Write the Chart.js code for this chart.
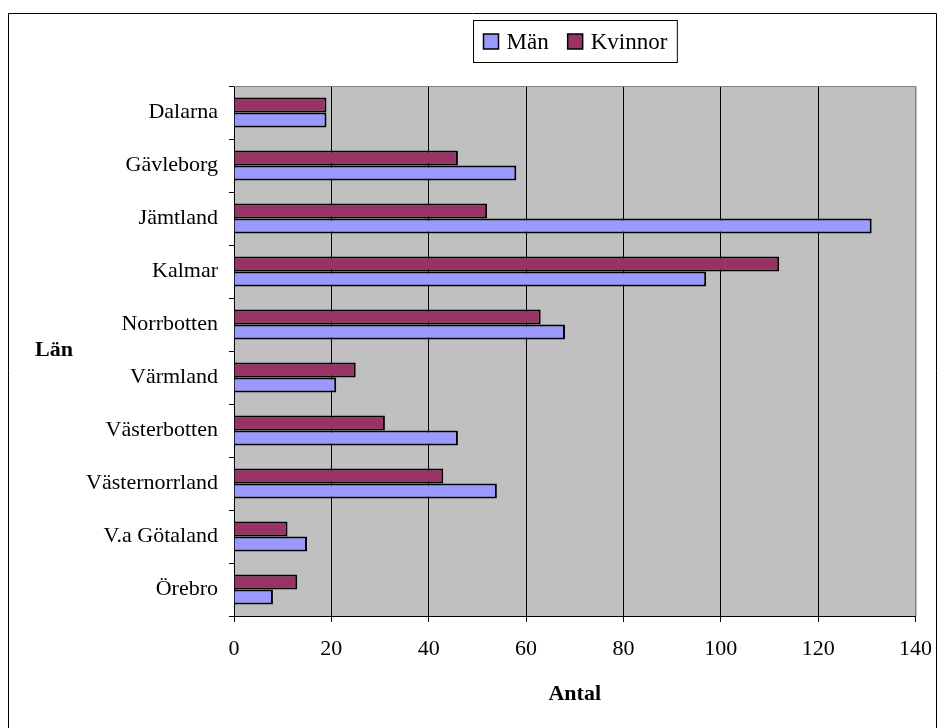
<!DOCTYPE html>
<html lang="sv">
<head>
    <meta charset="UTF-8">
    <meta name="viewport" content="width=device-width, initial-scale=1.0">
    <title>Antal per län</title>
    <script src="https://cdn.jsdelivr.net/npm/chart.js"></script>
    <style>
        html, body {
            margin: 0;
            padding: 0;
            background: #fff;
        }
        canvas {
            display: block;
        }
    </style>
</head>
<body>
    <canvas id="myChart" width="946" height="728"></canvas>

    <script>
        // data
        const lan = ['Dalarna', 'Gävleborg', 'Jämtland', 'Kalmar', 'Norrbotten', 'Värmland',
                     'Västerbotten', 'Västernorrland', 'V.a Götaland', 'Örebro'];
        const man = [19, 58, 131, 97, 68, 21, 46, 54, 15, 8];
        const kvinnor = [19, 46, 52, 112, 63, 25, 31, 43, 11, 13];
        const xMax = 140;
        const xStep = 20;

        const serif = '"Liberation Serif", "Times New Roman", serif';
        Chart.defaults.font.family = serif;
        Chart.defaults.font.size = 22;
        Chart.defaults.color = '#000';

        // gray plot background, frame round the picture, "Län" and the boxed legend
        const decorations = {
            id: 'decorations',
            beforeDraw(chart) {
                const {ctx, chartArea: a} = chart;
                ctx.save();
                ctx.fillStyle = '#fff';
                ctx.fillRect(0, 0, chart.width, chart.height);
                ctx.fillStyle = '#c0c0c0';
                ctx.fillRect(a.left, a.top, a.right - a.left, a.bottom - a.top);
                ctx.restore();
            },
            afterDraw(chart) {
                const {ctx, chartArea: a} = chart;
                ctx.save();
                // plot area edge top/right
                ctx.strokeStyle = '#808080';
                ctx.lineWidth = 1;
                ctx.beginPath();
                ctx.moveTo(a.left, a.top + 0.5);
                ctx.lineTo(a.right + 0.5, a.top + 0.5);
                ctx.lineTo(a.right + 0.5, a.bottom);
                ctx.stroke();

                // outer frame, bottom edge is cut off in the picture
                ctx.strokeStyle = '#000';
                ctx.beginPath();
                ctx.moveTo(8.5, chart.height);
                ctx.lineTo(8.5, 13.5);
                ctx.lineTo(936.5, 13.5);
                ctx.lineTo(936.5, chart.height);
                ctx.stroke();

                // y title, horizontal
                ctx.font = 'bold 22px ' + serif;
                ctx.fillStyle = '#000';
                ctx.textAlign = 'left';
                ctx.textBaseline = 'middle';
                ctx.fillText('Län', 35, 350);

                // legend: Män first, then Kvinnor
                ctx.font = '23px ' + serif;
                const items = chart.data.datasets.slice().reverse();
                const box = 15, gapText = 8, gapItem = 19, pad = 10;
                let w = pad * 2;
                items.forEach((d, i) => {
                    w += box + gapText + ctx.measureText(d.label).width;
                    if (i < items.length - 1) w += gapItem;
                });
                const cx = (a.left + a.right) / 2;
                const lx = Math.round(cx - w / 2) + 0.5;
                const ly = 20.5, lh = 42;
                ctx.fillStyle = '#fff';
                ctx.fillRect(lx, ly, w, lh);
                ctx.strokeStyle = '#000';
                ctx.strokeRect(lx, ly, w, lh);
                let x = lx + pad;
                const my = ly + lh / 2;
                items.forEach(d => {
                    ctx.fillStyle = d.backgroundColor;
                    ctx.fillRect(x, my - box / 2, box, box);
                    ctx.lineWidth = 1.5;
                    ctx.strokeStyle = '#000';
                    ctx.strokeRect(x, my - box / 2, box, box);
                    x += box + gapText;
                    ctx.fillStyle = '#000';
                    ctx.fillText(d.label, x, my + 1);
                    x += ctx.measureText(d.label).width + gapItem;
                });
                ctx.restore();
            }
        };

        const ctx = document.getElementById('myChart').getContext('2d');
        new Chart(ctx, {
            type: 'bar',
            data: {
                labels: lan,
                datasets: [{
                    label: 'Kvinnor',
                    data: kvinnor,
                    backgroundColor: '#993366',
                    borderColor: '#000',
                    borderWidth: 2,
                    categoryPercentage: 0.57,
                    barPercentage: 1.0
                }, {
                    label: 'Män',
                    data: man,
                    backgroundColor: '#9999ff',
                    borderColor: '#000',
                    borderWidth: 2,
                    categoryPercentage: 0.57,
                    barPercentage: 1.0
                }]
            },
            options: {
                indexAxis: 'y',
                responsive: false,
                animation: false,
                layout: {
                    padding: {top: 86, right: 28, left: 0, bottom: 0}
                },
                plugins: {
                    legend: {display: false},
                    tooltip: {enabled: false}
                },
                scales: {
                    x: {
                        min: 0,
                        max: xMax,
                        afterFit: (s) => { s.height = 112; },
                        ticks: {
                            stepSize: xStep,
                            padding: 14,
                            font: {size: 22}
                        },
                        grid: {
                            color: (c) => (c.tick && c.tick.value === xMax) ? '#808080' : '#000',
                            tickColor: '#000',
                            tickLength: 6,
                            lineWidth: 1
                        },
                        border: {color: '#000', width: 1},
                        title: {
                            display: true,
                            text: 'Antal',
                            font: {size: 22, weight: 'bold'},
                            padding: {top: 0, bottom: 20}
                        }
                    },
                    y: {
                        afterFit: (s) => { s.width = 234; },
                        ticks: {
                            padding: 11,
                            font: {size: 22}
                        },
                        grid: {
                            offset: true,
                            drawOnChartArea: false,
                            tickColor: '#000',
                            tickLength: 5
                        },
                        border: {color: '#000', width: 1}
                    }
                }
            },
            plugins: [decorations]
        });
    </script>
</body>
</html>
